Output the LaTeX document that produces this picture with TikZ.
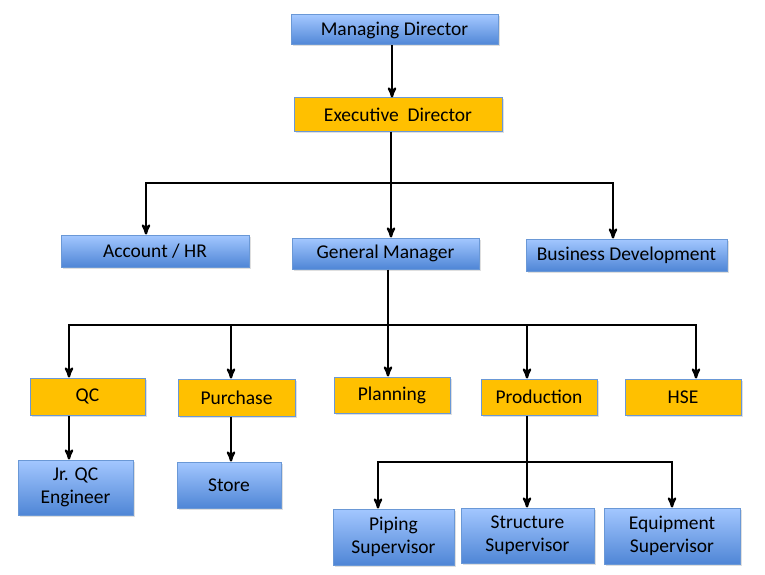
\documentclass[tikz,border=0pt]{standalone}
\usepackage{fontspec}
\setmainfont{Carlito}
\usetikzlibrary{arrows,shadows}
\definecolor{boxtop}{HTML}{A3C7FF}
\definecolor{boxbottom}{HTML}{4F86D6}
\definecolor{boxline}{HTML}{6A98D6}
\definecolor{orangefill}{HTML}{FFC000}
\tikzset
{
    post/.style     = {draw=boxline, line width=1pt, align=center, inner sep=0pt,
                       font=\fontsize{19.5}{23}\selectfont,
                       drop shadow={opacity=0.25, shadow xshift=1.5pt, shadow yshift=-1.5pt}},
    bluepost/.style = {post, top color=boxtop, bottom color=boxbottom},
    headpost/.style = {post, fill=orangefill},
    link/.style     = {line width=2.3pt, black},
    arrowlink/.style= {link, ->}
}

\begin{document}
\begin{tikzpicture}[>=stealth', x=1pt, y=-1pt]
    \useasboundingbox (0,0) rectangle (765,575);

    % top of the chart
    \node [bluepost, minimum width=207, minimum height=30] (md) at (394.5,30) {Managing Director};
    \node [headpost, minimum width=208, minimum height=33] (ed) at (398,114.5) {Executive\ \ Director};

    % second level
    \node [bluepost, minimum width=188, minimum height=32] (acc) at (155,251) {Account / HR};
    \node [bluepost, minimum width=187, minimum height=31] (gm)  at (385.5,253.5) {General Manager};
    \node [bluepost, minimum width=201, minimum height=32] (bd)  at (626.5,255) {Business Development};

    % departments
    \node [headpost, minimum width=115, minimum height=37] (qc)   at (87.5,396.5) {QC};
    \node [headpost, minimum width=117, minimum height=37] (pur)  at (236.5,397.5) {Purchase};
    \node [headpost, minimum width=116, minimum height=36] (plan) at (392,395) {Planning};
    \node [headpost, minimum width=116, minimum height=36] (prod) at (539,397) {Production};
    \node [headpost, minimum width=116, minimum height=36] (hse)  at (683,397) {HSE};

    % staff
    \node [bluepost, minimum width=115, minimum height=55] (jrqc)  at (75.5,487.5) {Jr. QC\\Engineer};
    \node [bluepost, minimum width=104, minimum height=46] (store) at (229,485) {Store};
    \node [bluepost, minimum width=121, minimum height=56] (pipe)  at (393.5,537) {Piping\\Supervisor};
    \node [bluepost, minimum width=133, minimum height=55] (struc) at (527.5,535.5) {Structure\\Supervisor};
    \node [bluepost, minimum width=136, minimum height=56] (equip) at (672,536) {Equipment\\Supervisor};

    % bus points
    \coordinate (edbus)   at (391,183);
    \coordinate (gmbus)   at (388,325);
    \coordinate (prodbus) at (527,462);

    % connectors
    \draw [arrowlink] ([xshift=-2.5pt]md.south) -- ([xshift=-6pt]ed.north);

    \draw [link] ([xshift=-7pt]ed.south) -- (edbus);
    \draw [arrowlink] (edbus) -| ([xshift=-9pt]acc.north);
    \draw [arrowlink] (edbus) -- ([xshift=5.5pt]gm.north);
    \draw [arrowlink] (edbus) -| ([xshift=-13.5pt]bd.north);

    \draw [link] ([xshift=2.5pt]gm.south) -- (gmbus);
    \draw [arrowlink] (gmbus) -| ([xshift=-18.5pt]qc.north);
    \draw [arrowlink] (gmbus) -| ([xshift=-5.5pt]pur.north);
    \draw [arrowlink] (gmbus) -- ([xshift=-4pt]plan.north);
    \draw [arrowlink] (gmbus) -| ([xshift=-12pt]prod.north);
    \draw [arrowlink] (gmbus) -| ([xshift=13pt]hse.north);

    \draw [arrowlink] ([xshift=-18.5pt]qc.south) -- ([xshift=-6.5pt]jrqc.north);
    \draw [arrowlink] ([xshift=-5.5pt]pur.south) -- ([xshift=2pt]store.north);

    \draw [link] ([xshift=-12pt]prod.south) -- (prodbus);
    \draw [arrowlink] (prodbus) -| ([xshift=-15.5pt]pipe.north);
    \draw [arrowlink] (prodbus) -- ([xshift=-0.5pt]struc.north);
    \draw [arrowlink] (prodbus) -| (equip.north);
\end{tikzpicture}
\end{document}
